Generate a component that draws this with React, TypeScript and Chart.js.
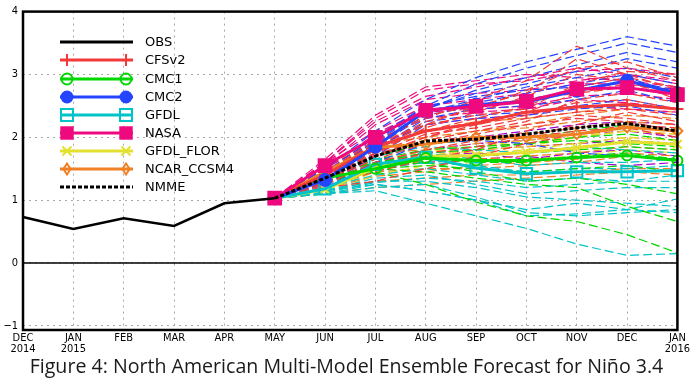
import React, { useEffect, useRef } from "react";
import { Chart, registerables } from "chart.js";
Chart.register(...registerables);

// ---------- DATA ----------
const monthLabels = [
  ["DEC", "2014"], ["JAN", "2015"], ["FEB"], ["MAR"], ["APR"], ["MAY"], ["JUN"],
  ["JUL"], ["AUG"], ["SEP"], ["OCT"], ["NOV"], ["DEC"], ["JAN", "2016"],
];
const yTickValues = [-1, 0, 1, 2, 3, 4];

const obs = [0.73, 0.54, 0.71, 0.59, 0.95, 1.03];

// model means, MAY 2015 .. JAN 2016
const cfsv2Mean = [1.03, 1.4, 1.85, 2.1, 2.22, 2.4, 2.48, 2.52, 2.45];
const cmc1Mean = [1.03, 1.35, 1.5, 1.67, 1.63, 1.63, 1.68, 1.71, 1.63];
const cmc2Mean = [1.03, 1.32, 1.85, 2.42, 2.52, 2.56, 2.74, 2.9, 2.7];
const gfdlMean = [1.03, 1.18, 1.57, 1.68, 1.51, 1.42, 1.45, 1.45, 1.47];
const nasaMean = [1.03, 1.55, 2.0, 2.43, 2.49, 2.57, 2.77, 2.79, 2.68];
const florMean = [1.03, 1.17, 1.51, 1.7, 1.71, 1.76, 1.83, 1.93, 1.89];
const ncarMean = [1.03, 1.45, 1.84, 1.89, 2.0, 2.0, 2.05, 2.16, 2.1];
const nmmeMean = [1.03, 1.35, 1.7, 1.94, 1.97, 2.05, 2.15, 2.22, 2.1];

// ensemble members, MAY 2015 .. JAN 2016
const cfsv2Members = [
  [1.03, 1.45, 1.95, 2.3, 2.6, 2.9, 3.45, 3.1, 2.9],
  [1.03, 1.4, 1.85, 2.25, 2.45, 2.75, 3.1, 3.2, 2.95],
  [1.03, 1.35, 1.8, 2.1, 2.3, 2.5, 2.8, 2.95, 2.8],
  [1.03, 1.3, 1.7, 2.0, 2.2, 2.35, 2.55, 2.6, 2.45],
  [1.03, 1.38, 1.75, 2.05, 2.15, 2.3, 2.4, 2.45, 2.35],
  [1.03, 1.3, 1.65, 1.9, 2.05, 2.2, 2.3, 2.25, 2.1],
  [1.03, 1.25, 1.6, 1.8, 1.95, 2.0, 2.1, 2.15, 2.0],
  [1.03, 1.42, 1.9, 2.35, 2.5, 2.6, 2.7, 2.85, 2.7],
  [1.03, 1.35, 1.75, 2.15, 2.4, 2.65, 3.0, 2.9, 2.6],
  [1.03, 1.3, 1.7, 1.95, 2.1, 2.25, 2.6, 2.7, 2.55],
  [1.03, 1.4, 1.8, 2.2, 2.35, 2.45, 2.85, 3.05, 3.0],
  [1.03, 1.28, 1.55, 1.75, 1.85, 2.0, 2.2, 2.4, 2.25],
  [1.03, 1.2, 1.3, 1.5, 1.7, 1.9, 2.05, 2.2, 2.15],
  [1.03, 1.45, 1.9, 2.2, 2.5, 2.7, 3.25, 3.0, 2.75],
  [1.03, 1.33, 1.72, 2.0, 2.25, 2.4, 2.7, 2.8, 2.65],
  [1.03, 1.22, 1.45, 1.65, 1.8, 2.1, 2.35, 2.3, 2.2],
];
const cmc2Members = [
  [1.03, 1.5, 2.1, 2.6, 2.95, 3.2, 3.4, 3.6, 3.45],
  [1.03, 1.45, 2.0, 2.5, 2.85, 3.1, 3.3, 3.5, 3.35],
  [1.03, 1.4, 1.95, 2.45, 2.75, 2.95, 3.15, 3.35, 3.2],
  [1.03, 1.35, 1.9, 2.4, 2.6, 2.8, 2.95, 3.1, 2.95],
  [1.03, 1.3, 1.85, 2.35, 2.5, 2.6, 2.75, 2.9, 2.75],
  [1.03, 1.3, 1.8, 2.3, 2.45, 2.5, 2.6, 2.75, 2.55],
  [1.03, 1.25, 1.75, 2.25, 2.35, 2.4, 2.5, 2.6, 2.45],
  [1.03, 1.35, 1.85, 2.4, 2.55, 2.7, 2.85, 3.0, 2.85],
  [1.03, 1.25, 1.7, 2.2, 2.3, 2.35, 2.45, 2.5, 2.35],
  [1.03, 1.4, 1.95, 2.5, 2.65, 2.75, 2.8, 2.95, 2.7],
  [1.03, 1.2, 1.6, 1.9, 1.95, 1.9, 1.75, 1.7, 1.65],
  [1.03, 1.38, 1.92, 2.45, 2.7, 2.85, 3.05, 3.25, 3.1],
];
const nasaMembers = [
  [1.03, 1.6, 2.3, 2.75, 2.85, 2.9, 3.05, 3.1, 3.0],
  [1.03, 1.55, 2.2, 2.6, 2.7, 2.75, 2.9, 3.0, 2.9],
  [1.03, 1.6, 2.1, 2.5, 2.6, 2.7, 2.85, 2.85, 2.75],
  [1.03, 1.5, 2.05, 2.45, 2.5, 2.6, 2.75, 2.8, 2.7],
  [1.03, 1.55, 2.0, 2.4, 2.45, 2.5, 2.65, 2.7, 2.6],
  [1.03, 1.5, 1.95, 2.3, 2.4, 2.45, 2.6, 2.55, 2.45],
  [1.03, 1.45, 1.85, 2.2, 2.3, 2.35, 2.5, 2.45, 2.4],
  [1.03, 1.6, 2.25, 2.65, 2.8, 2.95, 3.1, 3.0, 2.85],
  [1.03, 1.65, 2.35, 2.8, 2.9, 3.0, 2.95, 2.9, 2.8],
];
const cmc1Members = [
  [1.03, 1.3, 1.45, 1.25, 0.97, 0.75, 0.66, 0.45, 0.16],
  [1.03, 1.35, 1.5, 1.45, 1.35, 1.25, 1.2, 0.9, 0.66],
  [1.03, 1.4, 1.6, 1.7, 1.7, 1.75, 1.8, 1.85, 1.8],
  [1.03, 1.4, 1.65, 1.8, 1.85, 1.9, 2.0, 2.05, 1.95],
  [1.03, 1.35, 1.55, 1.65, 1.6, 1.6, 1.7, 1.75, 1.65],
  [1.03, 1.45, 1.7, 1.9, 1.95, 2.0, 2.1, 2.2, 2.1],
  [1.03, 1.3, 1.5, 1.55, 1.5, 1.45, 1.5, 1.55, 1.45],
  [1.03, 1.38, 1.6, 1.75, 1.8, 1.9, 1.95, 1.9, 1.85],
  [1.03, 1.32, 1.52, 1.6, 1.45, 1.3, 1.35, 1.25, 1.1],
];
const gfdlMembers = [
  [1.03, 1.1, 1.15, 0.95, 0.75, 0.55, 0.3, 0.12, 0.15],
  [1.03, 1.15, 1.25, 1.15, 1.0, 0.75, 0.78, 0.85, 1.02],
  [1.03, 1.1, 1.25, 1.15, 1.0, 0.85, 0.95, 0.85, 0.8],
  [1.03, 1.15, 1.3, 1.3, 1.2, 1.05, 1.0, 0.95, 0.9],
  [1.03, 1.2, 1.4, 1.5, 1.4, 1.3, 1.35, 1.3, 1.3],
  [1.03, 1.2, 1.5, 1.6, 1.55, 1.45, 1.5, 1.5, 1.55],
  [1.03, 1.25, 1.6, 1.75, 1.65, 1.55, 1.6, 1.6, 1.65],
  [1.03, 1.3, 1.7, 1.85, 1.8, 1.75, 1.85, 1.8, 1.75],
  [1.03, 1.1, 1.2, 1.25, 1.05, 0.8, 0.75, 0.8, 0.85],
  [1.03, 1.15, 1.35, 1.4, 1.25, 1.1, 1.15, 1.2, 1.2],
  [1.03, 1.12, 1.28, 1.35, 1.3, 1.2, 1.25, 1.3, 1.4],
];
const florMembers = [
  [1.03, 1.2, 1.55, 1.8, 1.85, 1.95, 2.0, 2.15, 2.1],
  [1.03, 1.15, 1.45, 1.65, 1.7, 1.75, 1.85, 1.95, 1.9],
  [1.03, 1.1, 1.4, 1.55, 1.6, 1.65, 1.7, 1.8, 1.75],
  [1.03, 1.2, 1.6, 1.8, 1.75, 1.8, 1.9, 2.0, 1.95],
  [1.03, 1.15, 1.5, 1.7, 1.8, 1.85, 2.0, 2.1, 2.05],
];
const ncarMembers = [
  [1.03, 1.5, 2.0, 2.1, 2.25, 2.3, 2.4, 2.5, 2.45],
  [1.03, 1.45, 1.9, 2.0, 2.1, 2.15, 2.25, 2.35, 2.3],
  [1.03, 1.4, 1.85, 1.9, 2.0, 2.05, 2.15, 2.25, 2.2],
  [1.03, 1.35, 1.75, 1.8, 1.9, 1.95, 2.05, 2.15, 2.1],
  [1.03, 1.3, 1.65, 1.7, 1.8, 1.85, 1.9, 2.0, 1.95],
  [1.03, 1.25, 1.55, 1.6, 1.65, 1.7, 1.75, 1.85, 1.8],
  [1.03, 1.2, 1.45, 1.5, 1.5, 1.55, 1.6, 1.7, 1.65],
  [1.03, 1.15, 1.3, 1.35, 1.4, 1.4, 1.45, 1.5, 1.5],
  [1.03, 1.1, 1.2, 1.25, 1.3, 1.35, 1.4, 1.45, 1.4],
  [1.03, 1.4, 1.8, 1.95, 2.1, 2.2, 2.35, 2.45, 2.4],
  [1.03, 1.28, 1.6, 1.75, 1.85, 1.9, 2.0, 2.1, 2.05],
  [1.03, 1.18, 1.38, 1.45, 1.55, 1.6, 1.65, 1.75, 1.7],
];
const otherMembers = [
  [1.03, 1.3, 1.6, 1.75, 1.8, 1.85, 1.9, 1.95, 1.9],
  [1.03, 1.35, 1.7, 1.9, 2.0, 2.1, 2.2, 2.25, 2.2],
  [1.03, 1.25, 1.5, 1.6, 1.65, 1.7, 1.6, 1.55, 1.6],
  [1.03, 1.3, 1.55, 1.7, 1.75, 1.65, 1.75, 1.8, 1.7],
  [1.03, 1.28, 1.58, 1.8, 1.9, 1.95, 2.05, 2.1, 2.0],
];

// ---------- STYLE ----------
const C = {
  cfs: "#f23a3a",
  cmc1: "#00d800",
  cmc2: "#2444ff",
  gfdl: "#00c4c8",
  nasa: "#ee0a7e",
  flor: "#e4e030",
  ncar: "#f08024",
  other: "#a000cc",
};

const pad = (v: (number | null)[]) => [null, null, null, null, null, ...v];

type MeanSpec = {
  label: string; data: (number | null)[]; color: string; style: string;
  radius: number; fill: boolean; dash?: number[]; order: number; legendRadius: number;
};

const meanSpecs: MeanSpec[] = [
  { label: "OBS", data: obs, color: "#000000", style: "none", radius: 0, fill: false, order: 0, legendRadius: 0 },
  { label: "CFSv2", data: pad(cfsv2Mean), color: C.cfs, style: "cross", radius: 6, fill: false, order: 4, legendRadius: 6 },
  { label: "CMC1", data: pad(cmc1Mean), color: C.cmc1, style: "circle", radius: 5, fill: false, order: 5, legendRadius: 5.5 },
  { label: "CMC2", data: pad(cmc2Mean), color: C.cmc2, style: "circle", radius: 6, fill: true, order: 3, legendRadius: 6.5 },
  { label: "GFDL", data: pad(gfdlMean), color: C.gfdl, style: "rect", radius: 8, fill: false, order: 6, legendRadius: 8.5 },
  { label: "NASA", data: pad(nasaMean), color: C.nasa, style: "rect", radius: 9, fill: true, order: 2, legendRadius: 9.5 },
  { label: "GFDL_FLOR", data: pad(florMean), color: C.flor, style: "crossRot", radius: 6, fill: false, order: 7, legendRadius: 6 },
  { label: "NCAR_CCSM4", data: pad(ncarMean), color: C.ncar, style: "rectRot", radius: 5, fill: false, order: 8, legendRadius: 5.5 },
  { label: "NMME", data: pad(nmmeMean), color: "#000000", style: "none", radius: 0, fill: false, dash: [4, 2], order: 1, legendRadius: 0 },
];

const memberGroups: [number[][], string][] = [
  [cfsv2Members, C.cfs], [cmc2Members, C.cmc2], [nasaMembers, C.nasa], [cmc1Members, C.cmc1],
  [gfdlMembers, C.gfdl], [florMembers, C.flor], [ncarMembers, C.ncar], [otherMembers, C.other],
];

function drawMarker(ctx: CanvasRenderingContext2D, style: string, x: number, y: number, r: number, color: string, fill: boolean) {
  ctx.save();
  ctx.setLineDash([]);
  ctx.strokeStyle = color;
  ctx.fillStyle = color;
  ctx.lineWidth = 2;
  ctx.beginPath();
  if (style === "cross") {
    ctx.moveTo(x - r, y); ctx.lineTo(x + r, y);
    ctx.moveTo(x, y - r); ctx.lineTo(x, y + r);
    ctx.stroke();
  } else if (style === "crossRot") {
    const d = r * 0.75;
    ctx.moveTo(x - d, y - d); ctx.lineTo(x + d, y + d);
    ctx.moveTo(x - d, y + d); ctx.lineTo(x + d, y - d);
    ctx.stroke();
  } else if (style === "circle") {
    ctx.arc(x, y, r, 0, Math.PI * 2);
    fill ? ctx.fill() : ctx.stroke();
  } else if (style === "rect") {
    const s = r * Math.SQRT1_2;
    ctx.rect(x - s, y - s, 2 * s, 2 * s);
    fill ? ctx.fill() : ctx.stroke();
  } else if (style === "rectRot") {
    ctx.moveTo(x, y - r); ctx.lineTo(x + r * 0.65, y); ctx.lineTo(x, y + r); ctx.lineTo(x - r * 0.65, y); ctx.closePath();
    ctx.stroke();
  }
  ctx.restore();
}

const legendPlugin = {
  id: "innerLegend",
  afterDatasetsDraw(chart: any) {
    const ctx: CanvasRenderingContext2D = chart.ctx;
    const x0 = 60, x1 = 133, m0 = 67, m1 = 126, tx = 145;
    const rowY = [42, 60, 79, 97, 115, 133, 151, 169, 187];
    meanSpecs.forEach((s, i) => {
      const y = rowY[i];
      ctx.save();
      ctx.strokeStyle = s.color;
      ctx.lineWidth = 3;
      ctx.setLineDash(s.dash || []);
      ctx.beginPath();
      ctx.moveTo(x0, y); ctx.lineTo(x1, y);
      ctx.stroke();
      ctx.restore();
      if (s.style !== "none") {
        drawMarker(ctx, s.style, m0, y, s.legendRadius, s.color, s.fill);
        drawMarker(ctx, s.style, m1, y, s.legendRadius, s.color, s.fill);
      }
      ctx.save();
      ctx.fillStyle = "#000";
      ctx.font = "13px 'DejaVu Sans'";
      ctx.textBaseline = "middle";
      ctx.fillText(s.label, tx, y + 1);
      ctx.restore();
    });
  },
};

const framePlugin = {
  id: "frame",
  afterDraw(chart: any) {
    const { ctx, chartArea } = chart;
    ctx.save();
    ctx.strokeStyle = "#000";
    ctx.lineWidth = 2.5;
    ctx.setLineDash([]);
    ctx.strokeRect(chartArea.left, chartArea.top, chartArea.right - chartArea.left, chartArea.bottom - chartArea.top);
    ctx.restore();
  },
};

export default function App() {
  const ref = useRef<HTMLCanvasElement | null>(null);
  useEffect(() => {
    document.body.style.margin = "0";
    if (!ref.current) return;
    const datasets: any[] = [];
    meanSpecs.forEach((s) => {
      datasets.push({
        label: s.label,
        data: s.data,
        borderColor: s.color,
        backgroundColor: s.fill ? s.color : "rgba(0,0,0,0)",
        borderWidth: s.label === "OBS" ? 2.5 : 3,
        borderDash: s.dash || [],
        pointStyle: s.style === "none" ? false : s.style,
        pointRadius: s.radius,
        pointBorderWidth: 2,
        pointBorderColor: s.color,
        pointBackgroundColor: s.fill ? s.color : "rgba(0,0,0,0)",
        order: s.order,
        spanGaps: false,
      });
    });
    datasets.push({
      label: "zero",
      data: monthLabels.map(() => 0),
      borderColor: "#000",
      borderWidth: 1.5,
      pointRadius: 0,
      order: 9,
    });
    let ord = 20;
    memberGroups.forEach(([members, color]) => {
      members.forEach((m) => {
        datasets.push({
          label: "member",
          data: pad(m),
          borderColor: color,
          borderWidth: 1.2,
          borderDash: [9, 4],
          pointRadius: 0,
          order: ord++,
        });
      });
    });

    const chart = new Chart(ref.current, {
      type: "line",
      data: { labels: monthLabels as any, datasets },
      options: {
        responsive: false,
        animation: false,
        layout: { padding: { top: 6, right: 15, left: 0, bottom: 0 } },
        plugins: { legend: { display: false }, tooltip: { enabled: false }, title: { display: false } },
        elements: { line: { tension: 0 } },
        scales: {
          x: {
            type: "category",
            offset: false,
            grid: { color: "#a8a8a8", lineWidth: 1, drawTicks: false },
            border: { display: false, dash: [2, 4] },
            ticks: {
              color: "#000",
              padding: 3,
              autoSkip: false,
              maxRotation: 0,
              font: { family: "'DejaVu Sans Condensed', 'Liberation Sans Narrow', 'DejaVu Sans'", size: 11, lineHeight: 0.95 },
            },
            afterFit: (s: any) => { s.height = 48; },
          },
          y: {
            type: "linear",
            min: -1.067,
            max: 4,
            grid: { color: "#a8a8a8", lineWidth: 1, drawTicks: false },
            border: { display: false, dash: [2, 4] },
            afterBuildTicks: (s: any) => { s.ticks = yTickValues.map((v) => ({ value: v })); },
            ticks: {
              color: "#000",
              padding: 5,
              font: { family: "'DejaVu Sans Condensed', 'DejaVu Sans'", size: 11 },
              callback: (v: any) => (Number(v) < 0 ? "\u2212" + Math.abs(Number(v)) : String(v)),
            },
            afterFit: (s: any) => { s.width = 23; },
          },
        },
      },
      plugins: [legendPlugin, framePlugin],
    });
    return () => chart.destroy();
  }, []);

  return (
    <div style={{ position: "relative", width: 693, height: 378, background: "#fff", overflow: "hidden" }}>
      <canvas ref={ref} width={693} height={378} style={{ position: "absolute", left: 0, top: 0 }} />
      <div
        style={{
          position: "absolute", left: 0, top: 353, width: 693, textAlign: "center",
          fontFamily: "'Open Sans', 'Noto Sans', sans-serif", fontSize: 19.6, lineHeight: "26px", color: "#1a1a1a",
        }}
      >
        Figure 4: North American Multi-Model Ensemble Forecast for Niño 3.4
      </div>
    </div>
  );
}
